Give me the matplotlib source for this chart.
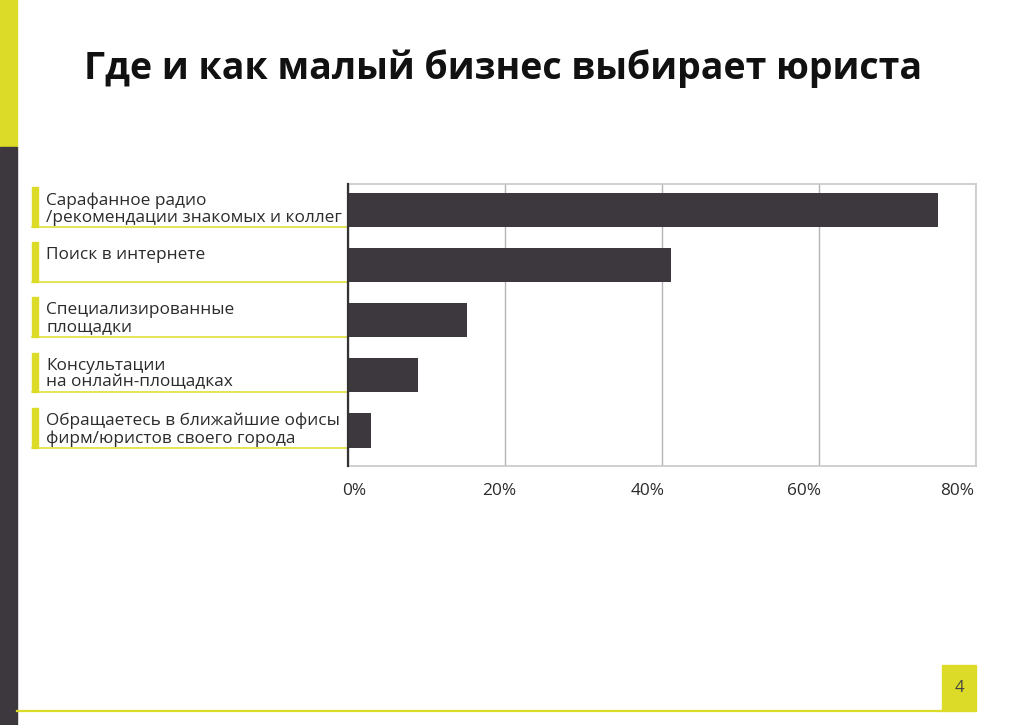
"""Horizontal bar chart: where small business finds a lawyer."""

import matplotlib
matplotlib.use("Agg")
import matplotlib.pyplot as plt
from matplotlib.patches import Rectangle
from matplotlib.transforms import blended_transform_factory, ScaledTranslation

plt.rcParams["font.family"] = ["Open Sans", "DejaVu Sans"]

categories = [
    "Сарафанное радио\n/рекомендации знакомых и коллег",
    "Поиск в интернете",
    "Специализированные\nплощадки",
    "Консультации\nна онлайн-площадках",
    "Обращаетесь в ближайшие офисы\nфирм/юристов своего города",
]
shares = [75.2, 41.2, 15.1, 8.9, 2.9]
x_ticks = [0, 20, 40, 60, 80]
x_labels = ["0%", "20%", "40%", "60%", "80%"]
title = "Где и как малый бизнес выбирает юриста"
page_number = "4"

YELLOW = "#dcdc28"
DARK = "#3c383d"
TEXT = "#2b2b2b"

W, H = 1024, 725
fig = plt.figure(figsize=(W / 100, H / 100), dpi=100)


def fx(px):
    return px / W


def fy(py):
    return 1 - py / H


# page decorations
fig.patches.append(Rectangle((0, fy(147)), fx(17), 1 - fy(147), transform=fig.transFigure,
                             color=YELLOW, zorder=0))
fig.patches.append(Rectangle((0, 0), fx(17), fy(147), transform=fig.transFigure,
                             color=DARK, zorder=0))
fig.add_artist(plt.Line2D([fx(17), fx(942)], [fy(710.5)] * 2, transform=fig.transFigure,
                          color=YELLOW, lw=1.6))
fig.patches.append(Rectangle((fx(942), fy(711)), fx(34), fy(665) - fy(711),
                             transform=fig.transFigure, color=YELLOW, zorder=0))
fig.text(fx(959), fy(688), page_number, ha="center", va="center", fontsize=12, color="#444444")

fig.text(fx(503), fy(69), title, ha="center", va="center", fontsize=27,
         fontweight="bold", color="#111111")

ax = fig.add_axes([fx(348), fy(466), fx(976) - fx(348), fy(184) - fy(466)])
ypos = list(range(len(categories)))
bar_h = 0.62
ax.barh(ypos, shares, height=bar_h, color=DARK, zorder=3)
ax.set_xlim(0, 80)
ax.set_ylim(4.645, -0.467)
ax.set_yticks([])
ax.set_xticks(x_ticks)
ax.set_xticklabels(x_labels, fontsize=12.4, color=TEXT)
ax.tick_params(axis="x", length=0, pad=12)
ax.grid(axis="x", color="#b4b4b4", lw=1, zorder=1)
for side in ("top", "right", "bottom"):
    ax.spines[side].set_color("#c8c8c8")
    ax.spines[side].set_linewidth(1.2)
ax.spines["left"].set_color("#333333")
ax.spines["left"].set_linewidth(1.6)
ax.spines["left"].set_zorder(4)

# nudge tick labels as in the original layout
offsets = [6, -6, -14, -15, -19]
for lab, dx in zip(ax.get_xticklabels(), offsets):
    lab.set_transform(lab.get_transform() + ScaledTranslation(dx / 100, 0, fig.dpi_scale_trans))

# category labels with yellow markers
bt = blended_transform_factory(fig.transFigure, ax.transData)
unit = (466 - 184) / (4.645 + 0.467)
for i, name in enumerate(categories):
    top = i - bar_h / 2
    bottom = i + bar_h / 2
    ax.plot([fx(32), fx(348)], [bottom, bottom], transform=bt, color=YELLOW, lw=1.1,
            clip_on=False, zorder=2)
    ax.add_patch(Rectangle((fx(32), top - 5.5 / unit), fx(5.5), bar_h + 5.5 / unit,
                           transform=bt, color=YELLOW, clip_on=False))
    ax.text(fx(46), top - 0.5 / unit, name, transform=bt, ha="left", va="top",
            fontsize=12.4, color=TEXT, linespacing=1.07)

fig.savefig("out.png", dpi=100)
